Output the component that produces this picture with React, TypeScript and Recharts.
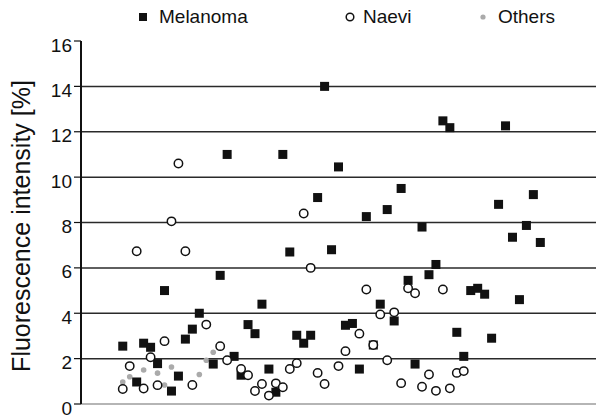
import React from "react";
import {
  ScatterChart,
  Scatter,
  XAxis,
  YAxis,
  ReferenceLine,
} from "recharts";

// [sample index, fluorescence intensity %]
const melanoma: [number, number][] = [
  [0, 2.55], [2, 0.97], [3, 2.68], [4, 2.5], [5, 1.78], [6, 5.0], [7, 0.57],
  [8, 1.23], [9, 2.86], [10, 3.3], [11, 4.0], [13, 1.76], [14, 5.67], [15, 11.0],
  [16, 2.1], [17, 1.27], [18, 3.5], [19, 3.1], [20, 4.4], [21, 1.54], [22, 0.52],
  [23, 11.0], [24, 6.7], [25, 3.03], [26, 2.68], [27, 3.03], [28, 9.1], [29, 14.0],
  [30, 6.8], [31, 10.45], [32, 3.47], [33, 3.55], [34, 1.54], [35, 8.26], [36, 2.6],
  [37, 4.4], [38, 8.57], [39, 3.66], [40, 9.5], [41, 5.45], [42, 1.76], [43, 7.8],
  [44, 5.7], [45, 6.15], [46, 12.48], [47, 12.18], [48, 3.16], [49, 2.1], [50, 5.0],
  [51, 5.1], [52, 4.84], [53, 2.9], [54, 8.8], [55, 12.26], [56, 7.35], [57, 4.6],
  [58, 7.87], [59, 9.23], [60, 7.12],
];

const naevi: [number, number][] = [
  [0, 0.66], [1, 1.67], [2, 6.73], [3, 0.68], [4, 2.06], [5, 0.83], [6, 2.77],
  [7, 8.05], [8, 10.6], [9, 6.73], [10, 0.84], [12, 3.5], [14, 2.55], [15, 1.93],
  [17, 1.54], [18, 1.27], [19, 0.57], [20, 0.88], [21, 0.37], [22, 0.91], [23, 0.74],
  [24, 1.54], [25, 1.8], [26, 8.4], [27, 6.0], [28, 1.37], [29, 0.88], [31, 1.67],
  [32, 2.33], [34, 3.1], [35, 5.05], [36, 2.6], [37, 3.95], [38, 1.93], [39, 4.04],
  [40, 0.92], [41, 5.1], [42, 4.88], [43, 0.76], [44, 1.3], [45, 0.58], [46, 5.05],
  [47, 0.69], [48, 1.37], [49, 1.45],
];

const others: [number, number][] = [
  [0, 0.97], [1, 1.2], [3, 1.5], [5, 1.36], [6, 0.84], [7, 1.63], [11, 1.3],
  [12, 1.93], [13, 2.28], [59, 9.3],
];

const yTicks = [0, 2, 4, 6, 8, 10, 12, 14, 16];
const gridValues = [2, 4, 6, 8, 10, 12, 14];

const toPoints = (arr: [number, number][]) => arr.map(([i, v]) => ({ i, v }));

const FONT = "'Liberation Sans', Arial, sans-serif";

const Square = (p: any) => (
  <rect x={p.cx - 4.5} y={p.cy - 4.5} width={9} height={9} fill="#111" />
);
const Ring = (p: any) => (
  <circle cx={p.cx} cy={p.cy} r={4.2} fill="#fff" stroke="#111" strokeWidth={1.5} />
);
const Dot = (p: any) => (
  <circle cx={p.cx} cy={p.cy} r={2.8} fill="#aaa" />
);

const YTick = (p: any) => (
  <text
    x={p.x}
    y={p.y + 4}
    textAnchor="end"
    dominantBaseline="central"
    fontFamily={FONT}
    fontSize={19}
    fill="#111"
  >
    {p.payload.value}
  </text>
);

function LegendRow() {
  const text: React.CSSProperties = {
    position: "absolute",
    top: 6,
    fontFamily: FONT,
    fontSize: 19,
    lineHeight: "22px",
    color: "#111",
  };
  return (
    <>
      <svg style={{ position: "absolute", left: 0, top: 0 }} width={596} height={34}>
        <rect x={139} y={13} width={8} height={8} fill="#111" />
        <circle cx={350} cy={17} r={3.8} fill="#fff" stroke="#111" strokeWidth={1.5} />
        <circle cx={483} cy={17} r={2.6} fill="#aaa" />
      </svg>
      <span style={{ ...text, left: 159 }}>Melanoma</span>
      <span style={{ ...text, left: 363 }}>Naevi</span>
      <span style={{ ...text, left: 498 }}>Others</span>
    </>
  );
}

export default function App() {
  return (
    <div style={{ position: "absolute", left: 0, top: 0, width: 596, height: 417, background: "#fff" }}>
      <ScatterChart width={596} height={417} margin={{ top: 41, right: 0, bottom: 13, left: 0 }}>
        <XAxis type="number" dataKey="i" domain={[-6, 68]} hide />
        <YAxis
          type="number"
          dataKey="v"
          domain={[0, 16]}
          ticks={yTicks}
          width={81}
          interval={0}
          axisLine={{ stroke: "#111", strokeWidth: 2 }}
          tickLine={{ stroke: "#111", strokeWidth: 1.2 }}
          tickSize={7}
          tickMargin={2}
          tick={YTick}
          label={{
            content: () => (
              <text
                x={21}
                y={226}
                transform="rotate(-90 21 226)"
                textAnchor="middle"
                dominantBaseline="central"
                fontFamily={FONT}
                fontSize={25}
                fill="#111"
              >
                Fluorescence intensity [%]
              </text>
            ),
          }}
        />
        <ReferenceLine y={0} stroke="#b5b5b5" strokeWidth={2} />
        {gridValues.map((g) => (
          <ReferenceLine key={g} y={g} stroke="#2a2a2a" strokeWidth={1.5} />
        ))}
        <Scatter data={toPoints(others)} shape={Dot} isAnimationActive={false} />
        <Scatter data={toPoints(melanoma)} shape={Square} isAnimationActive={false} />
        <Scatter data={toPoints(naevi)} shape={Ring} isAnimationActive={false} />
      </ScatterChart>
      <LegendRow />
    </div>
  );
}
